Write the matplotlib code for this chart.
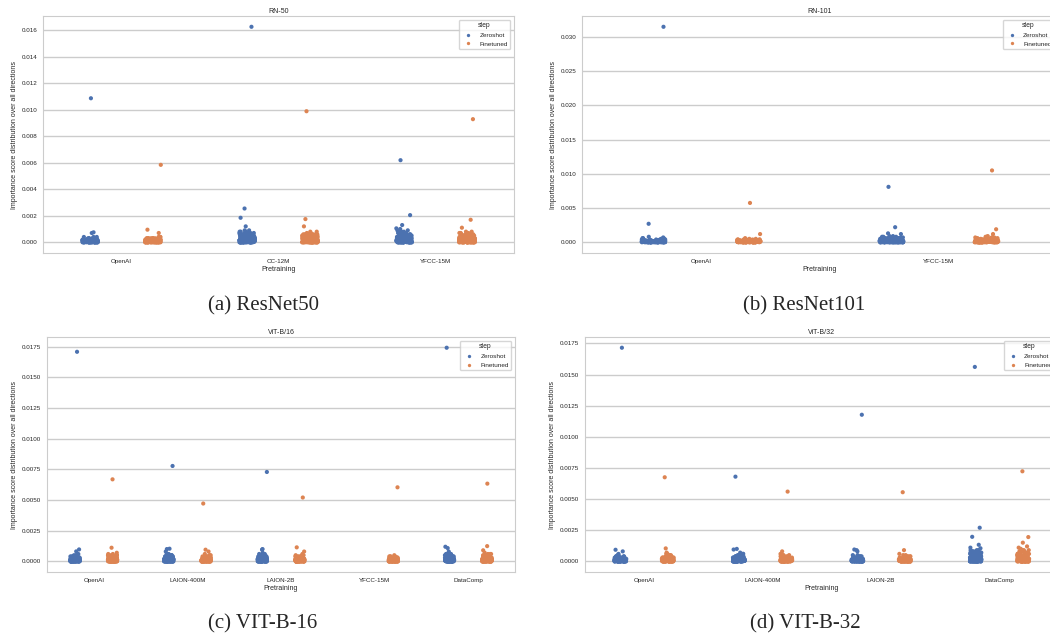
import numpy as np
import pandas as pd
import seaborn as sns
import matplotlib.pyplot as plt

steps = ['Zeroshot', 'Finetuned']

# the dense blob of each strip is kept as counts of points per score level,
# the isolated points above it as explicit values
levels = [0.0, 0.00005, 0.0001, 0.00015, 0.0002, 0.0003, 0.0004, 0.0005, 0.0006, 0.0007, 0.0008, 0.0009]

# RN-50
rn50_pretraining = ['OpenAI', 'CC-12M', 'YFCC-15M']
rn50_openai_zs_counts = [30, 30, 30, 25, 20, 8, 3, 0, 0, 0, 0, 0]
rn50_openai_zs_outliers = [0.01088, 0.00075, 0.0007]
rn50_openai_ft_counts = [30, 30, 30, 25, 20, 10, 4, 0, 0, 0, 0, 0]
rn50_openai_ft_outliers = [0.00585, 0.00095, 0.0007]
rn50_cc12m_zs_counts = [30, 30, 30, 30, 30, 25, 20, 15, 8, 5, 3, 2]
rn50_cc12m_zs_outliers = [0.01628, 0.00255, 0.00185, 0.0012]
rn50_cc12m_ft_counts = [30, 30, 30, 30, 30, 25, 20, 12, 6, 3, 2, 0]
rn50_cc12m_ft_outliers = [0.0099, 0.00175, 0.0012]
rn50_yfcc_zs_counts = [30, 30, 30, 30, 28, 22, 15, 10, 6, 4, 3, 2]
rn50_yfcc_zs_outliers = [0.0062, 0.00205, 0.0013, 0.00105, 0.001]
rn50_yfcc_ft_counts = [30, 30, 30, 30, 25, 20, 14, 8, 5, 3, 2, 0]
rn50_yfcc_ft_outliers = [0.0093, 0.0017, 0.0011]

# RN-101
rn101_pretraining = ['OpenAI', 'YFCC-15M']
rn101_openai_zs_counts = [30, 30, 30, 25, 20, 12, 6, 3, 2, 1, 1, 0]
rn101_openai_zs_outliers = [0.0315, 0.0027]
rn101_openai_ft_counts = [30, 30, 30, 25, 20, 12, 6, 3, 1, 0, 0, 0]
rn101_openai_ft_outliers = [0.00575, 0.0012]
rn101_yfcc_zs_counts = [30, 30, 30, 30, 25, 20, 15, 10, 6, 4, 3, 2]
rn101_yfcc_zs_outliers = [0.0081, 0.0022, 0.0013, 0.0012]
rn101_yfcc_ft_counts = [30, 30, 30, 30, 25, 20, 15, 10, 6, 4, 2, 1]
rn101_yfcc_ft_outliers = [0.0105, 0.0019, 0.0012]

# ViT-B/16
vit16_pretraining = ['OpenAI', 'LAION-400M', 'LAION-2B', 'YFCC-15M', 'DataComp']
vit16_openai_zs_counts = [30, 30, 30, 25, 20, 12, 6, 3, 1, 0, 0, 0]
vit16_openai_zs_outliers = [0.01707, 0.00097, 0.00081]
vit16_openai_ft_counts = [30, 30, 30, 25, 20, 12, 8, 4, 2, 1, 0, 0]
vit16_openai_ft_outliers = [0.00668, 0.00111]
vit16_laion400m_zs_counts = [30, 30, 30, 25, 20, 14, 8, 4, 2, 0, 1, 0]
vit16_laion400m_zs_outliers = [0.00777, 0.00103, 0.001]
vit16_laion400m_ft_counts = [30, 30, 30, 25, 20, 12, 6, 3, 1, 0, 1, 0]
vit16_laion400m_ft_outliers = [0.00471, 0.00095]
vit16_laion2b_zs_counts = [30, 30, 30, 25, 22, 15, 8, 5, 2, 1, 0, 0]
vit16_laion2b_zs_outliers = [0.00728, 0.001, 0.00095]
vit16_laion2b_ft_counts = [30, 30, 30, 25, 20, 12, 6, 3, 1, 0, 1, 0]
vit16_laion2b_ft_outliers = [0.0052, 0.00114]
vit16_yfcc_zs_counts = [0, 0, 0, 0, 0, 0, 0, 0, 0, 0, 0, 0]
vit16_yfcc_zs_outliers = []
vit16_yfcc_ft_counts = [30, 30, 30, 25, 18, 10, 4, 1, 0, 0, 0, 0]
vit16_yfcc_ft_outliers = [0.00603]
vit16_datacomp_zs_counts = [30, 30, 30, 28, 22, 15, 10, 6, 3, 1, 1, 0]
vit16_datacomp_zs_outliers = [0.0174, 0.00119, 0.00108]
vit16_datacomp_ft_counts = [30, 30, 30, 28, 22, 15, 10, 6, 3, 1, 0, 1]
vit16_datacomp_ft_outliers = [0.00633, 0.00124]

# ViT-B/32
vit32_pretraining = ['OpenAI', 'LAION-400M', 'LAION-2B', 'DataComp']
vit32_openai_zs_counts = [30, 30, 30, 25, 20, 12, 6, 3, 1, 0, 1, 0]
vit32_openai_zs_outliers = [0.01715, 0.00093]
vit32_openai_ft_counts = [30, 30, 30, 25, 20, 12, 6, 4, 2, 1, 0, 0]
vit32_openai_ft_outliers = [0.00675, 0.00104]
vit32_laion400m_zs_counts = [30, 30, 30, 25, 22, 15, 8, 5, 2, 1, 0, 0]
vit32_laion400m_zs_outliers = [0.0068, 0.001, 0.00095]
vit32_laion400m_ft_counts = [30, 30, 30, 25, 20, 12, 6, 3, 1, 0, 1, 0]
vit32_laion400m_ft_outliers = [0.0056]
vit32_laion2b_zs_counts = [30, 30, 30, 25, 18, 10, 5, 2, 0, 0, 1, 1]
vit32_laion2b_zs_outliers = [0.01177, 0.00095]
vit32_laion2b_ft_counts = [30, 30, 30, 25, 18, 10, 5, 2, 1, 0, 0, 1]
vit32_laion2b_ft_outliers = [0.00555]
vit32_datacomp_zs_counts = [30, 30, 30, 30, 28, 22, 16, 12, 8, 6, 4, 3]
vit32_datacomp_zs_outliers = [0.01561, 0.0027, 0.00197, 0.00133, 0.0011, 0.00105]
vit32_datacomp_ft_counts = [30, 30, 30, 30, 28, 22, 16, 12, 8, 6, 4, 3]
vit32_datacomp_ft_outliers = [0.00723, 0.00195, 0.0015, 0.0012, 0.0011, 0.001]


def make_frame(groups):
    rows = []
    for (pre, step), (counts, outliers) in groups.items():
        vals = list(outliers) + list(np.repeat(levels, counts))
        for v in vals:
            rows.append((pre, step, v))
    return pd.DataFrame(rows, columns=['Pretraining', 'step', 'value'])


sns.set_theme(style='whitegrid')
plt.rcParams['font.family'] = ['Liberation Sans', 'DejaVu Sans']
np.random.seed(0)

fig = plt.figure(figsize=(10.5, 6.38), dpi=100)


def draw(rect, title, order, groups, caption, cap_xy):
    ax = fig.add_axes(rect)
    df = make_frame(groups)
    sns.stripplot(data=df, x='Pretraining', y='value', hue='step', order=order,
                  hue_order=steps, dodge=True, size=3, palette='deep', ax=ax)
    ax.set_title(title, fontsize=5, pad=2.5)
    ax.set_ylabel('Importance score distribution over all directions', fontsize=5, labelpad=3)
    ax.set_xlabel('Pretraining', fontsize=5, labelpad=2)
    ax.tick_params(labelsize=4.5, length=0, pad=4)
    for s in ax.spines.values():
        s.set_linewidth(0.8)
    sns.move_legend(ax, 'upper right', title='step', fontsize=4.6, title_fontsize=4.8,
                    markerscale=0.8, borderaxespad=0.6)
    fig.text(cap_xy[0], cap_xy[1], caption, ha='center', va='center', fontsize=15,
             family=['Liberation Serif', 'DejaVu Serif'])
    return ax


draw([0.041, 0.6034, 0.4486, 0.3715], 'RN-50', rn50_pretraining,
     {('OpenAI', 'Zeroshot'): (rn50_openai_zs_counts, rn50_openai_zs_outliers),
      ('OpenAI', 'Finetuned'): (rn50_openai_ft_counts, rn50_openai_ft_outliers),
      ('CC-12M', 'Zeroshot'): (rn50_cc12m_zs_counts, rn50_cc12m_zs_outliers),
      ('CC-12M', 'Finetuned'): (rn50_cc12m_ft_counts, rn50_cc12m_ft_outliers),
      ('YFCC-15M', 'Zeroshot'): (rn50_yfcc_zs_counts, rn50_yfcc_zs_outliers),
      ('YFCC-15M', 'Finetuned'): (rn50_yfcc_ft_counts, rn50_yfcc_ft_outliers)},
     '(a) ResNet50', (263 / 1050, 1 - 306 / 638))

draw([0.5543, 0.6034, 0.4533, 0.3715], 'RN-101', rn101_pretraining,
     {('OpenAI', 'Zeroshot'): (rn101_openai_zs_counts, rn101_openai_zs_outliers),
      ('OpenAI', 'Finetuned'): (rn101_openai_ft_counts, rn101_openai_ft_outliers),
      ('YFCC-15M', 'Zeroshot'): (rn101_yfcc_zs_counts, rn101_yfcc_zs_outliers),
      ('YFCC-15M', 'Finetuned'): (rn101_yfcc_ft_counts, rn101_yfcc_ft_outliers)},
     '(b) ResNet101', (804 / 1050, 1 - 306 / 638))

draw([0.0448, 0.1034, 0.4457, 0.3683], 'ViT-B/16', vit16_pretraining,
     {('OpenAI', 'Zeroshot'): (vit16_openai_zs_counts, vit16_openai_zs_outliers),
      ('OpenAI', 'Finetuned'): (vit16_openai_ft_counts, vit16_openai_ft_outliers),
      ('LAION-400M', 'Zeroshot'): (vit16_laion400m_zs_counts, vit16_laion400m_zs_outliers),
      ('LAION-400M', 'Finetuned'): (vit16_laion400m_ft_counts, vit16_laion400m_ft_outliers),
      ('LAION-2B', 'Zeroshot'): (vit16_laion2b_zs_counts, vit16_laion2b_zs_outliers),
      ('LAION-2B', 'Finetuned'): (vit16_laion2b_ft_counts, vit16_laion2b_ft_outliers),
      ('YFCC-15M', 'Zeroshot'): (vit16_yfcc_zs_counts, vit16_yfcc_zs_outliers),
      ('YFCC-15M', 'Finetuned'): (vit16_yfcc_ft_counts, vit16_yfcc_ft_outliers),
      ('DataComp', 'Zeroshot'): (vit16_datacomp_zs_counts, vit16_datacomp_zs_outliers),
      ('DataComp', 'Finetuned'): (vit16_datacomp_ft_counts, vit16_datacomp_ft_outliers)},
     '(c) VIT-B-16', (263 / 1050, 1 - 624 / 638))

draw([0.557, 0.1034, 0.4514, 0.3683], 'ViT-B/32', vit32_pretraining,
     {('OpenAI', 'Zeroshot'): (vit32_openai_zs_counts, vit32_openai_zs_outliers),
      ('OpenAI', 'Finetuned'): (vit32_openai_ft_counts, vit32_openai_ft_outliers),
      ('LAION-400M', 'Zeroshot'): (vit32_laion400m_zs_counts, vit32_laion400m_zs_outliers),
      ('LAION-400M', 'Finetuned'): (vit32_laion400m_ft_counts, vit32_laion400m_ft_outliers),
      ('LAION-2B', 'Zeroshot'): (vit32_laion2b_zs_counts, vit32_laion2b_zs_outliers),
      ('LAION-2B', 'Finetuned'): (vit32_laion2b_ft_counts, vit32_laion2b_ft_outliers),
      ('DataComp', 'Zeroshot'): (vit32_datacomp_zs_counts, vit32_datacomp_zs_outliers),
      ('DataComp', 'Finetuned'): (vit32_datacomp_ft_counts, vit32_datacomp_ft_outliers)},
     '(d) VIT-B-32', (805 / 1050, 1 - 624 / 638))

fig.savefig('out.png', dpi=100)
